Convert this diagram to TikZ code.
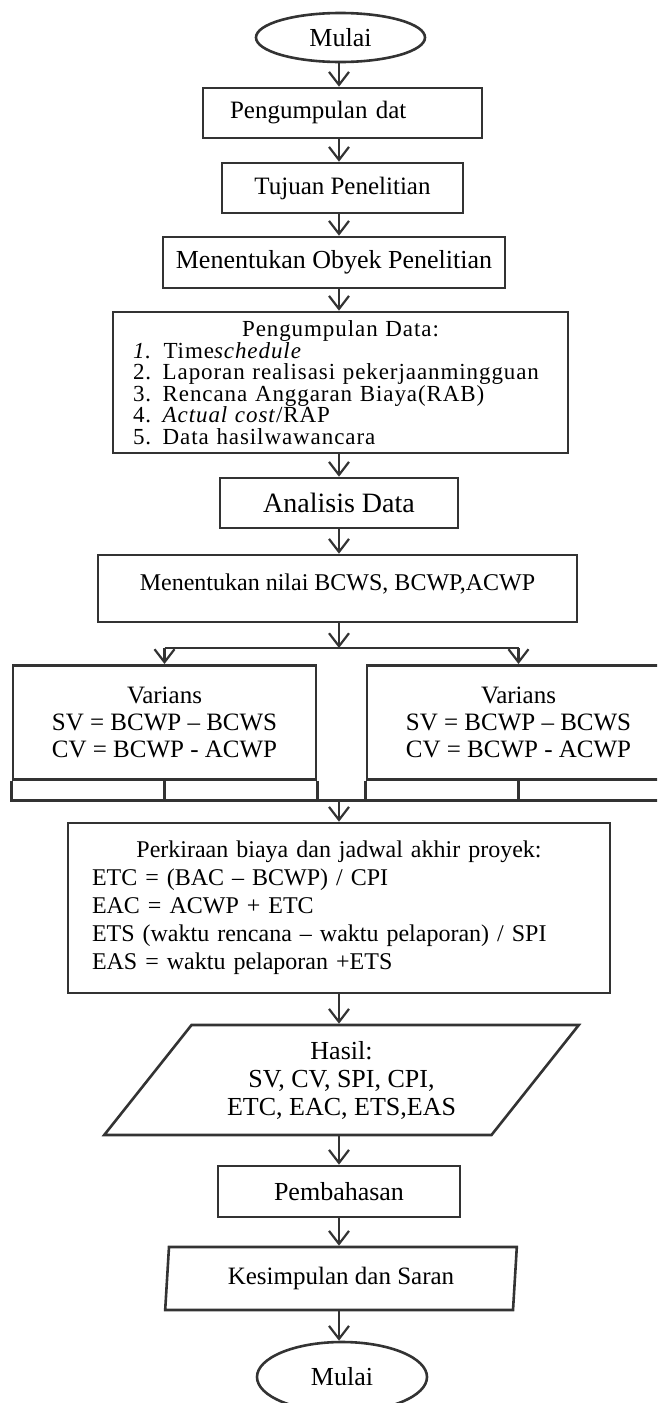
\documentclass[tikz,border=0pt]{standalone}
\usepackage{fontspec}
\setmainfont{Liberation Serif}
\usetikzlibrary{arrows.meta,shapes.geometric}

\begin{document}
\begin{tikzpicture}[x=1pt,y=-1pt,
  garis/.style={draw=black!80,line width=2.6pt},
  kotak/.style={garis,rectangle,inner sep=0pt,align=center,font=\fontsize{25}{28}\selectfont},
  ujung/.style={garis,ellipse,inner sep=0pt,font=\fontsize{26}{30}\selectfont},
  jajar/.style={garis,trapezium,trapezium stretches=true,inner sep=0pt,align=center,font=\fontsize{26}{28}\selectfont},
  panah/.style={draw=black!80,line width=2.2pt,-{Straight Barb[length=13pt,width=20pt]}}]
  \useasboundingbox (0,0) rectangle (657,1403);
  \clip (0,0) rectangle (657,1403);
  \coordinate (kolom) at (339,0);

  \node[ujung,minimum width=169pt,minimum height=49pt] (mulai) at (340.5,37.5) {Mulai};
  \node[kotak,minimum width=279pt,minimum height=50pt,inner xsep=27pt,text width=225pt,align=left] (kumpul) at (342.5,113) {Pengumpulan dat};
  \node[kotak,minimum width=241pt,minimum height=50pt] (tujuan) at (342.5,188) {Tujuan Penelitian};
  \node[kotak,minimum width=342pt,minimum height=51pt,font=\fontsize{26}{30}\selectfont] (obyek) at (334,262.5) {Menentukan Obyek Penelitian};
  \node[kotak,minimum width=455pt,minimum height=141pt,inner xsep=20pt,text width=415pt,align=left,
    font=\fontsize{23}{21.5}\selectfont\addfontfeature{LetterSpace=4}] (data) at (340.5,382.5)
    {\makebox[415pt]{Pengumpulan Data:}\\
     \textit{1.} Time\textit{schedule}\\
     2. Laporan realisasi pekerjaanmingguan\\
     3. Rencana Anggaran Biaya(RAB)\\
     4. \textit{Actual cost}/RAP\\
     5. Data hasilwawancara};
  \node[kotak,minimum width=238pt,minimum height=50pt,font=\fontsize{28}{32}\selectfont] (analisis) at (339,503) {Analisis Data};
  \node[kotak,minimum width=479pt,minimum height=67pt,text depth=13pt,font=\fontsize{24}{28}\selectfont] (nilai) at (337.5,588.5) {Menentukan nilai BCWS, BCWP,ACWP};
  \node[kotak,minimum width=303pt,minimum height=114pt,anchor=north,font=\fontsize{25}{27}\selectfont] (varL) at (164.5,664)
    {Varians\\SV = BCWP – BCWS\\CV = BCWP - ACWP};
  \node[kotak,minimum width=303pt,minimum height=114pt,anchor=north,font=\fontsize{25}{27}\selectfont] (varR) at (518.5,664)
    {Varians\\SV = BCWP – BCWS\\CV = BCWP - ACWP};
  \node[kotak,minimum width=542pt,minimum height=170pt,inner xsep=24pt,text width=494pt,align=left,
    font=\fontsize{24}{28}\selectfont] (perkiraan) at (339,908)
    {\makebox[494pt]{Perkiraan biaya dan jadwal akhir proyek:}\\
     ETC = (BAC – BCWP) / CPI\\
     EAC = ACWP + ETC\\
     ETS (waktu rencana – waktu pelaporan) / SPI\\
     EAS = waktu pelaporan +ETS};
  \node[jajar,minimum width=477pt,minimum height=110pt,trapezium left angle=49.5,trapezium right angle=130.5] (hasil) at (341.5,1080)
    {Hasil:\\SV, CV, SPI, CPI,\\ETC, EAC, ETS,EAS};
  \node[kotak,minimum width=242pt,minimum height=51pt,font=\fontsize{26}{30}\selectfont] (bahas) at (339,1191.5) {Pembahasan};
  \node[jajar,minimum width=352pt,minimum height=63pt,trapezium left angle=83.7,trapezium right angle=96.3,
    font=\fontsize{25}{28}\selectfont] (simpul) at (341,1278.5) {Kesimpulan dan Saran};
  \node[ujung,minimum width=170pt,minimum height=70pt] (selesai) at (342,1377) {Mulai};

  \foreach \a/\b in {mulai/kumpul,kumpul/tujuan,tujuan/obyek,obyek/data,data/analisis,analisis/nilai,hasil/bahas,bahas/simpul,simpul/selesai}
    \draw[panah] (\a.south -| kolom) -- (\b.north -| kolom);

  \coordinate (cabang) at (339,648);
  \draw[panah] (nilai.south -| kolom) -- (cabang);
  \draw[garis] (varL.north |- cabang) -- (varR.north |- cabang);
  \draw[panah] (varL.north |- cabang) -- (varL.north);
  \draw[panah] (varR.north |- cabang) -- (varR.north);

  \draw[garis] (varL.south west) -- ++(0,20) coordinate (bawah) -- (varR.south east |- bawah);
  \foreach \v in {varL,varR} {
    \draw[garis] (\v.south west) -- ++(0,20);
    \draw[garis] (\v.south) -- ++(0,20);
    \draw[garis] (\v.south east) -- ++(0,20);
  }
  \coordinate (gabung) at (kolom |- bawah);
  \draw[panah] (gabung) -- (perkiraan.north -| kolom);
  \draw[panah] (perkiraan.south -| kolom) -- (hasil.north -| kolom);
\end{tikzpicture}
\end{document}
